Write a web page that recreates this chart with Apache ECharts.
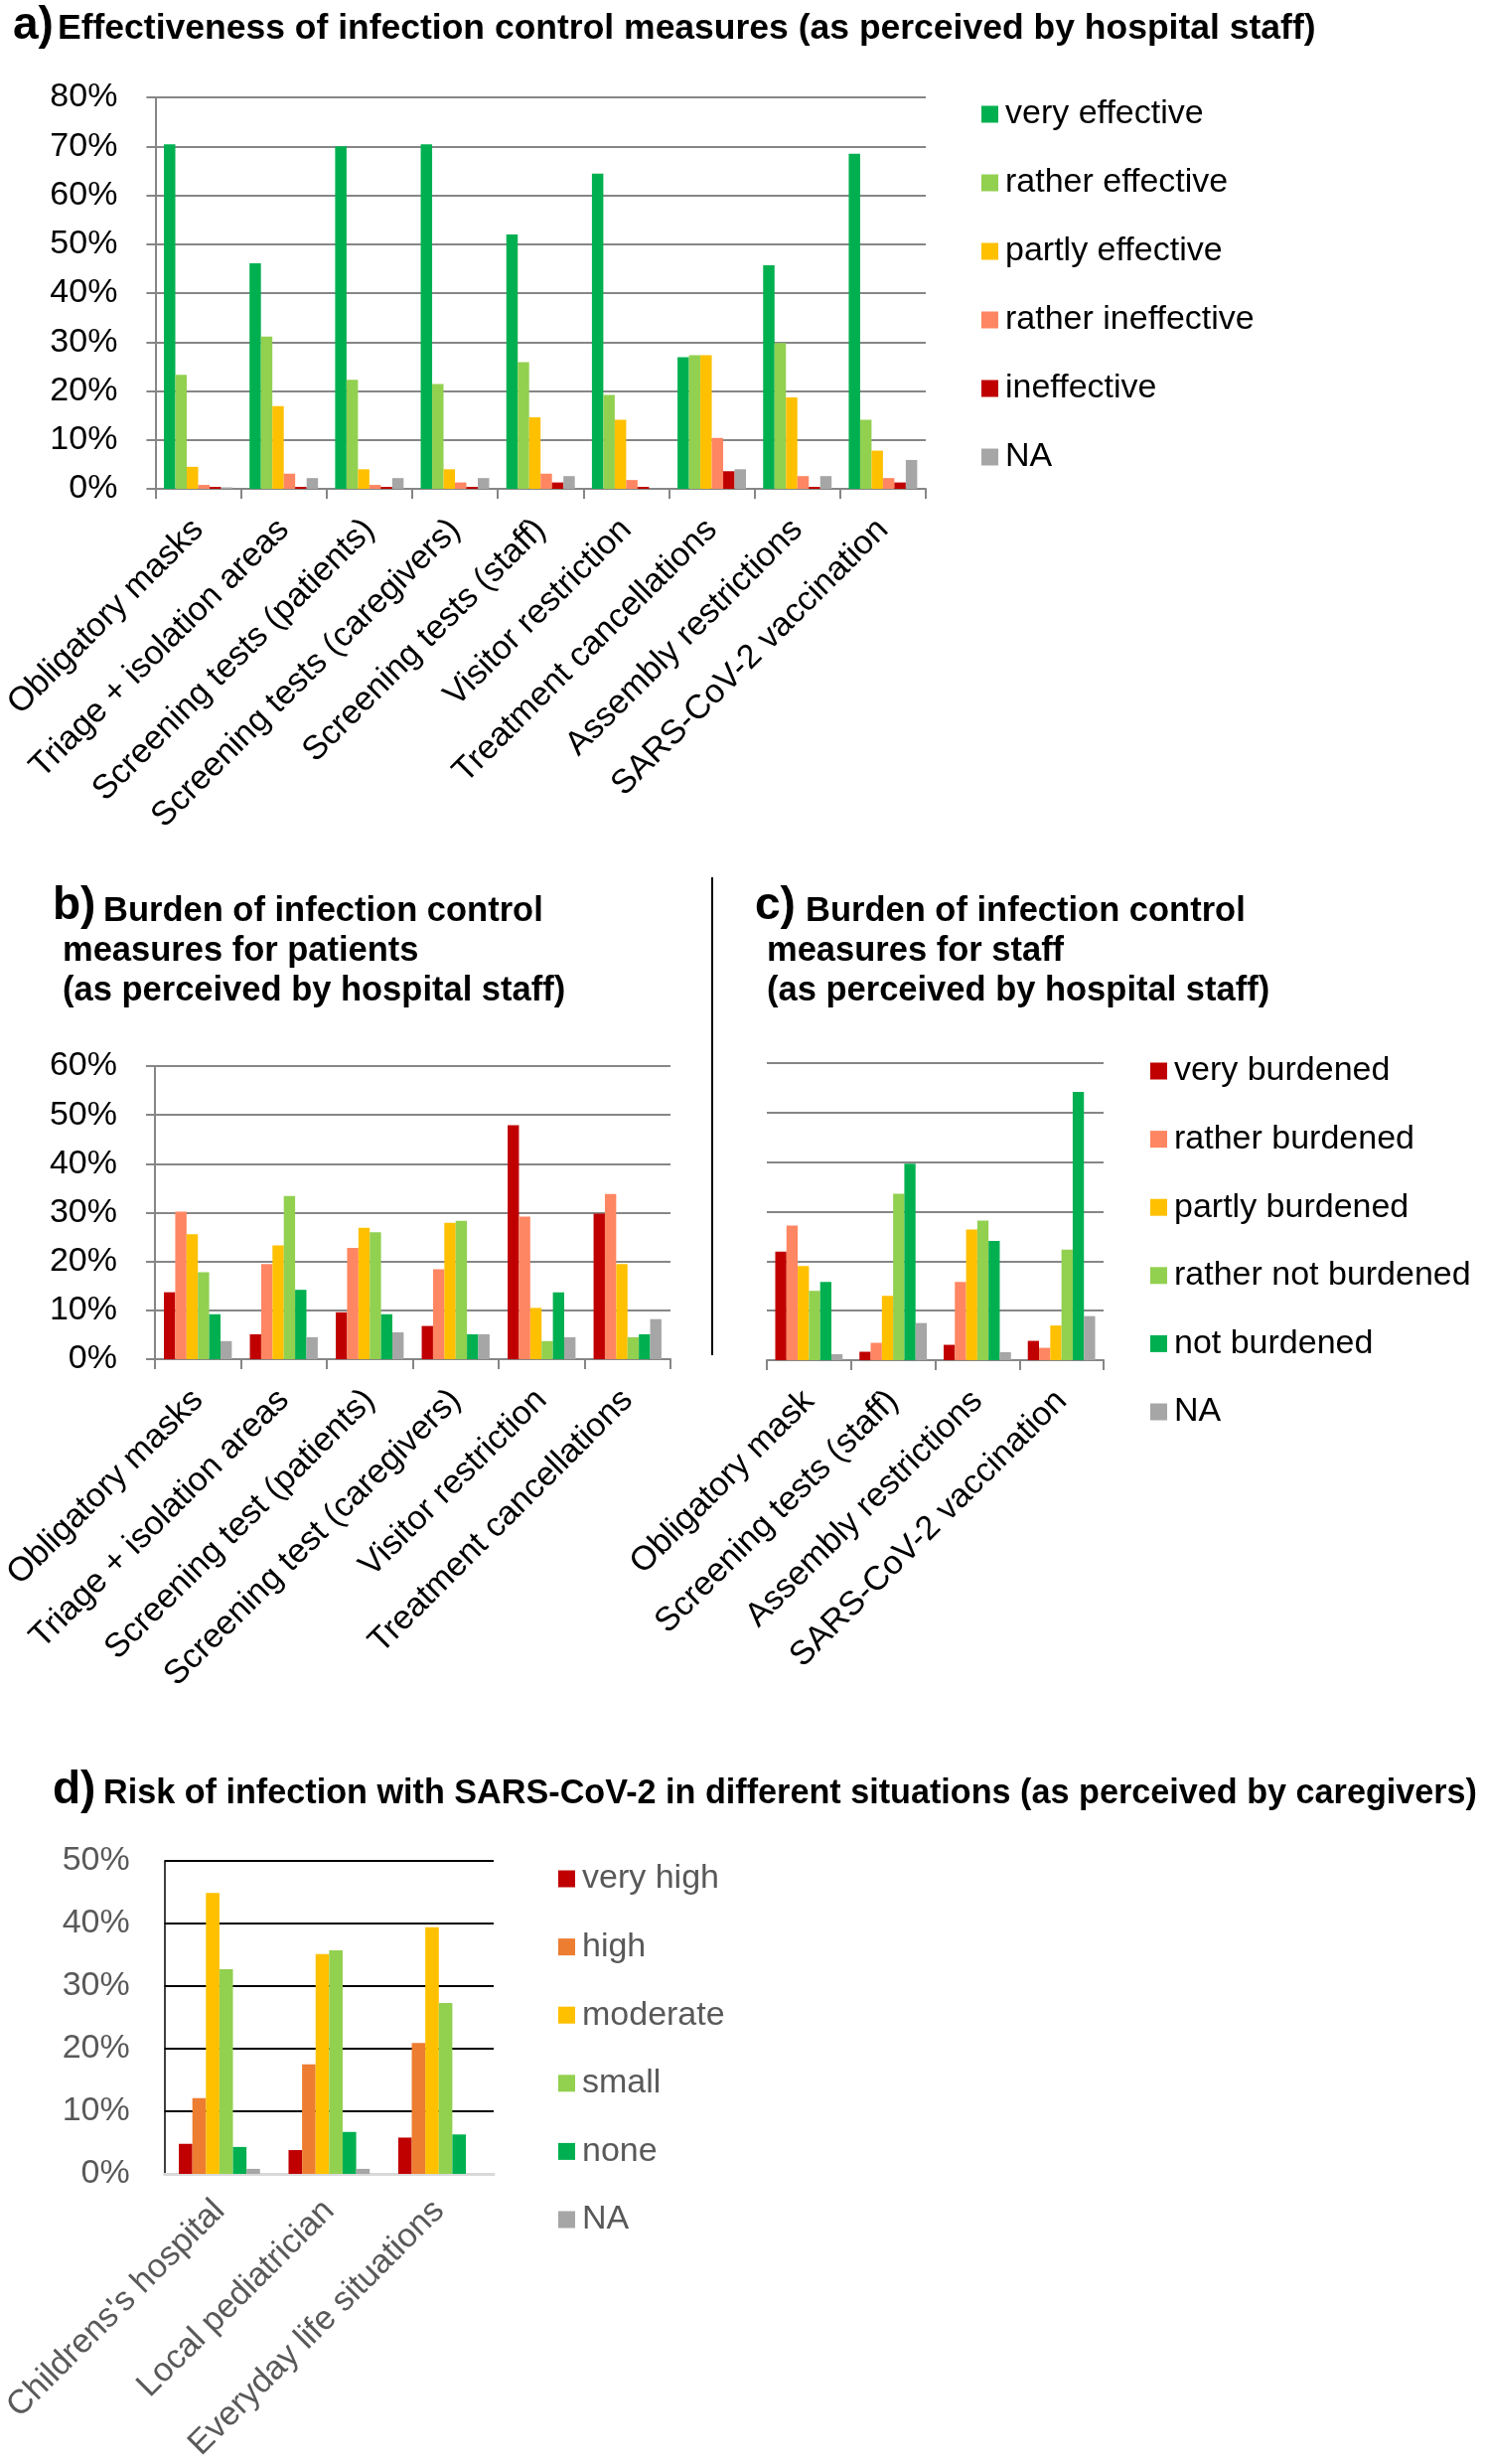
<!DOCTYPE html>
<html><head><meta charset="utf-8">
<script src="https://cdn.jsdelivr.net/npm/echarts@6/dist/echarts.min.js"></script>
<style>html,body{margin:0;padding:0;background:#fff}#c{width:1495px;height:2480px}</style>
</head><body><div id="c"></div><script>
const FONT = '"Liberation Sans", Arial, sans-serif';

// ---- a) Effectiveness ----
const catsA = ['Obligatory masks','Triage + isolation areas','Screening tests (patients)','Screening tests (caregivers)','Screening tests (staff)','Visitor restriction','Treatment cancellations','Assembly restrictions','SARS-CoV-2 vaccination'];
const namesA = ['very effective','rather effective','partly effective','rather ineffective','ineffective','NA'];
const veryEffective     = [70.4,46.1,70.0,70.4,52.0,64.4,26.9,45.7,68.5];
const ratherEffective   = [23.3,31.1,22.3,21.4,25.9,19.2,27.3,29.8,14.1];
const partlyEffective   = [4.5,16.9,4.0,4.0,14.6,14.1,27.3,18.7,7.8];
const ratherIneffective = [0.8,3.1,0.8,1.3,3.1,1.8,10.4,2.6,2.2];
const ineffective       = [0.4,0.4,0.4,0.4,1.3,0.4,3.6,0.4,1.3];
const naA               = [0.3,2.2,2.2,2.2,2.6,0,4.0,2.6,5.9];

// ---- b) Burden for patients ----
const catsB = ['Obligatory masks','Triage + isolation areas','Screening test (patients)','Screening test (caregivers)','Visitor restriction','Treatment cancellations'];
const namesBurden = ['very burdened','rather burdened','partly burdened','rather not burdened','not burdened','NA'];
const veryBurdenedB   = [13.7,5.1,9.6,6.8,47.9,29.8];
const ratherBurdenedB = [30.2,19.5,22.8,18.4,29.2,33.8];
const partlyBurdenedB = [25.6,23.3,26.9,27.9,10.5,19.5];
const ratherNotB      = [17.8,33.4,26.0,28.3,3.7,4.5];
const notBurdenedB    = [9.2,14.2,9.2,5.1,13.7,5.1];
const naB             = [3.7,4.5,5.5,5.1,4.5,8.2];

// ---- c) Burden for staff ----
const catsC = ['Obligatory mask','Screening tests (staff)','Assembly restrictions','SARS-CoV-2 vaccination'];
const veryBurdenedC   = [21.9,1.7,3.1,3.9];
const ratherBurdenedC = [27.2,3.5,15.8,2.5];
const partlyBurdenedC = [19.0,13.0,26.4,7.0];
const ratherNotC      = [14.0,33.6,28.2,22.3];
const notBurdenedC    = [15.8,39.7,24.1,54.2];
const naC             = [1.2,7.5,1.6,8.9];

// ---- d) Risk of infection ----
const catsD = ["Childrens's hospital",'Local pediatrician','Everyday life situations'];
const namesD = ['very high','high','moderate','small','none','NA'];
const veryHigh = [4.8,3.8,5.8];
const high     = [12.1,17.5,20.9];
const moderate = [44.9,35.1,39.4];
const small    = [32.7,35.7,27.3];
const none     = [4.3,6.7,6.3];
const naD      = [0.8,0.8,0];

const colA = ['#00B050','#92D050','#FFC000','#FF8662','#C00000','#A6A6A6'];
const colB = ['#C00000','#FF8662','#FFC000','#92D050','#00B050','#A6A6A6'];
const colD = ['#C00000','#ED7D31','#FFC000','#92D050','#00B050','#A6A6A6'];

const GRAY = '#868686';
const chart = echarts.init(document.getElementById('c'), null, {renderer:'canvas'});

function mkSeries(names, arrays, colors, idx, gap){
  return names.map((n,i)=>({
    type:'bar', name:n, xAxisIndex:idx, yAxisIndex:idx, data:arrays[i],
    barGap:'0%', barCategoryGap:gap,
    itemStyle:{color:colors[i]}, emphasis:{disabled:true}, animation:false
  }));
}
function xAxisCat(idx, data, opt){
  return Object.assign({
    type:'category', gridIndex:idx, data:data,
    axisLine:{show:true, lineStyle:{color:GRAY, width:2}},
    axisTick:{show:true, length:10, lineStyle:{color:GRAY, width:2}},
    axisLabel:{interval:0, rotate:45, fontSize:34, fontFamily:FONT, color:'#000', margin:36}
  }, opt||{});
}
function yAxisVal(idx, max, opt){
  return Object.assign({
    type:'value', gridIndex:idx, min:0, max:max, interval:10,
    axisLine:{show:true, lineStyle:{color:GRAY, width:2}},
    axisTick:{show:true, length:9, lineStyle:{color:GRAY, width:2}},
    splitLine:{show:true, lineStyle:{color:GRAY, width:2}},
    axisLabel:{formatter:'{value}%', fontSize:34, fontFamily:FONT, color:'#000', margin:38}
  }, opt||{});
}
function legend(names, left, top, gap, color){
  return {data:names, orient:'vertical', left:left, top:top, padding:0, icon:'rect', itemWidth:17, itemHeight:17,
    itemGap:gap, selectedMode:false,
    textStyle:{fontSize:34, fontFamily:FONT, color:color, lineHeight:36, padding:[0,0,0,2]}};
}
const tBold = {fontSize:34.5, fontWeight:'bold', fontFamily:FONT, color:'#000'};
const tBoldA = {fontSize:35.5, fontWeight:'bold', fontFamily:FONT, color:'#000'};
const tBoldD = {fontSize:34.2, fontWeight:'bold', fontFamily:FONT, color:'#000'};
const tPre = {fontSize:46, fontWeight:'bold', fontFamily:FONT, color:'#000'};
function T(text, left, top, style){ return {text:text, left:left, top:top, padding:0, textStyle:style}; }

const option = {
  animation:false,
  backgroundColor:'#fff',
  title:[
    T('a)', 13, 3, tPre),
    T('Effectiveness of infection control measures (as perceived by hospital staff)', 58, 11, tBoldA),
    T('b)', 53, 889, tPre),
    T('Burden of infection control', 104, 900, tBold),
    T('measures for patients', 63, 940, tBold),
    T('(as perceived by hospital staff)', 63, 980, tBold),
    T('c)', 760, 889, tPre),
    T('Burden of infection control', 811, 900, tBold),
    T('measures for staff', 772, 940, tBold),
    T('(as perceived by hospital staff)', 772, 980, tBold),
    T('d)', 53, 1779, tPre),
    T('Risk of infection with SARS-CoV-2 in different situations (as perceived by caregivers)', 104, 1789, tBoldD)
  ],
  grid:[
    {left:150, top:98, width:782, height:394},
    {left:148, top:1073, width:527, height:295},
    {left:772, top:1070, width:339, height:299},
    {left:160, top:1873, width:337, height:315}
  ],
  xAxis:[
    xAxisCat(0, catsA),
    xAxisCat(1, catsB),
    xAxisCat(2, catsC),
    xAxisCat(3, catsD, {
      axisLine:{show:true, lineStyle:{color:'#d9d9d9', width:3}},
      axisTick:{show:false},
      axisLabel:{interval:0, rotate:45, fontSize:34, fontFamily:FONT, color:'#595959', margin:32}
    })
  ],
  yAxis:[
    yAxisVal(0, 80),
    yAxisVal(1, 60),
    yAxisVal(2, 60, {axisLine:{show:false}, axisTick:{show:false}, axisLabel:{show:false}}),
    yAxisVal(3, 50, {
      axisLine:{show:true, lineStyle:{color:'#000', width:1.5}},
      axisTick:{show:false},
      splitLine:{show:true, lineStyle:{color:'#000', width:2}},
      axisLabel:{formatter:'{value}%', fontSize:34, fontFamily:FONT, color:'#595959', margin:35}
    })
  ],
  legend:[
    legend(namesA, 988, 97, 33, '#000'),
    legend(namesBurden, 1158, 1060, 32.6, '#000'),
    legend(namesD, 562, 1873, 32.6, '#595959')
  ],
  graphic:[
    {type:'line', shape:{x1:717, y1:883, x2:717, y2:1364}, style:{stroke:'#000', lineWidth:2}}
  ],
  series:[].concat(
    mkSeries(namesA, [veryEffective,ratherEffective,partlyEffective,ratherIneffective,ineffective,naA], colA, 0, '20%'),
    mkSeries(namesBurden, [veryBurdenedB,ratherBurdenedB,partlyBurdenedB,ratherNotB,notBurdenedB,naB], colB, 1, '21%'),
    mkSeries(namesBurden, [veryBurdenedC,ratherBurdenedC,partlyBurdenedC,ratherNotC,notBurdenedC,naC], colB, 2, '20%'),
    mkSeries(namesD, [veryHigh,high,moderate,small,none,naD], colD, 3, '26%')
  )
};
chart.setOption(option);
</script></body></html>
